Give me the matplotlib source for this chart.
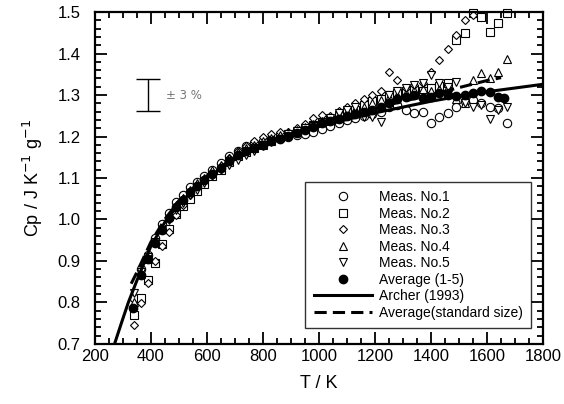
import numpy as np
import matplotlib
matplotlib.use("Agg")
import matplotlib.pyplot as plt
from matplotlib.ticker import MultipleLocator, AutoMinorLocator

plt.rcParams['font.family'] = ['Liberation Sans', 'DejaVu Sans']

# temperature grid of the individual runs (K)
t_meas = [340, 365, 390, 415, 440, 465, 490, 515, 540, 565, 590,
          620, 650, 680, 710, 740, 770, 800, 830, 860, 890, 920, 950, 980,
          1010, 1040, 1070, 1100, 1130, 1160, 1190, 1220, 1250, 1280, 1310,
          1340, 1370, 1400, 1430, 1460, 1490, 1520, 1550, 1580, 1610, 1640, 1670]

nan = np.nan
meas1 = [0.810, 0.880, 0.915, 0.955, 0.990, 1.015, 1.042, 1.060, 1.078, 1.090, 1.104,
         1.120, 1.136, 1.152, 1.165, 1.176, 1.184, 1.190, 1.195, 1.198, 1.200, 1.203, 1.206, 1.210,
         1.218, 1.225, 1.232, 1.240, 1.245, 1.250, 1.255, 1.260, 1.272, 1.275, 1.264,
         1.256, 1.260, 1.232, 1.248, 1.256, 1.272, 1.285, 1.288, 1.280, 1.270, 1.268, 1.232]
meas2 = [0.770, 0.810, 0.855, 0.895, 0.940, 0.978, 1.012, 1.032, 1.050, 1.068, 1.085,
         1.105, 1.120, 1.138, 1.152, 1.163, 1.172, 1.180, 1.190, 1.198, 1.205, 1.212, 1.220, 1.228,
         1.236, 1.240, 1.250, 1.258, 1.265, 1.275, 1.285, 1.290, 1.300, 1.305, 1.310,
         1.315, 1.310, 1.318, 1.322, 1.328, 1.433, 1.449, 1.497, 1.489, 1.453, 1.473, 1.497]
meas3 = [0.746, 0.798, 0.846, 0.900, 0.935, 0.970, 1.010, 1.035, 1.060, 1.078, 1.095,
         1.115, 1.130, 1.148, 1.165, 1.178, 1.190, 1.200, 1.205, 1.210, 1.212, 1.220, 1.230, 1.245,
         1.252, 1.250, 1.262, 1.270, 1.280, 1.290, 1.300, 1.310, 1.356, 1.336, 1.318,
         1.325, 1.330, 1.356, 1.384, 1.412, 1.445, 1.481, 1.493, nan, nan, nan, nan]
meas4 = [0.800, 0.868, 0.905, 0.945, 0.978, 1.008, 1.035, 1.052, 1.072, 1.088, 1.100,
         1.118, 1.132, 1.148, 1.162, 1.172, 1.180, 1.188, 1.196, 1.204, 1.210, 1.216, 1.222, 1.230,
         1.238, 1.245, 1.252, 1.258, 1.266, 1.272, 1.280, 1.288, 1.295, 1.300, 1.305,
         1.312, 1.315, 1.310, 1.315, 1.320, 1.290, 1.280, 1.336, 1.352, 1.340, 1.356, 1.388]
meas5 = [0.822, 0.874, 0.910, 0.945, 0.975, 0.998, 1.022, 1.040, 1.058, 1.072, 1.088,
         1.104, 1.118, 1.132, 1.143, 1.155, 1.166, 1.176, 1.186, 1.195, 1.205, 1.213, 1.220, 1.226,
         1.235, 1.245, 1.256, 1.265, 1.270, 1.248, 1.248, 1.236, 1.300, 1.310, 1.318,
         1.325, 1.330, 1.348, 1.330, 1.320, 1.332, 1.280, 1.270, 1.275, 1.243, 1.264, 1.272]

# average of runs 1-5
t_avg = [337, 365, 390, 415, 440, 465, 490, 515, 540, 565, 590,
         620, 650, 680, 710, 740, 770, 800, 830, 860, 890, 920, 950, 980,
         1010, 1040, 1070, 1100, 1130, 1160, 1190, 1220, 1250, 1280, 1310,
         1340, 1370, 1400, 1430, 1460, 1490, 1520, 1550, 1580, 1610, 1640, 1660]
cp_avg = [0.786, 0.865, 0.905, 0.942, 0.975, 1.003, 1.030, 1.047, 1.066, 1.080, 1.094,
          1.110, 1.124, 1.140, 1.155, 1.165, 1.172, 1.180, 1.188, 1.195, 1.202, 1.208, 1.215, 1.224,
          1.232, 1.237, 1.243, 1.249, 1.255, 1.260, 1.265, 1.270, 1.280, 1.290, 1.296,
          1.300, 1.294, 1.296, 1.305, 1.300, 1.298, 1.300, 1.305, 1.310, 1.307, 1.296, 1.292]

# Archer (1993) reference curve
t_archer = [265, 280, 300, 320, 350, 400, 450, 500, 600, 700, 800, 900, 1000,
            1100, 1200, 1300, 1400, 1500, 1600, 1700, 1800]
cp_archer = [0.688, 0.719, 0.760, 0.800, 0.852, 0.935, 0.993, 1.038, 1.100, 1.145, 1.178, 1.203, 1.224,
             1.241, 1.257, 1.271, 1.285, 1.297, 1.308, 1.317, 1.326]

# average of standard size samples
t_std = [330, 350, 400, 450, 500, 600, 700, 800, 900, 1000, 1100, 1200, 1300, 1400, 1500, 1600, 1650]
cp_std = [0.845, 0.872, 0.945, 1.000, 1.045, 1.105, 1.150, 1.180, 1.205, 1.228, 1.250, 1.268, 1.285,
          1.300, 1.318, 1.335, 1.342]

fig = plt.figure(figsize=(5.64, 4.04), dpi=100)
ax = fig.add_axes([0.168, 0.149, 0.795, 0.821])

mk = dict(linestyle='none', mfc='white', mec='black', mew=0.8, ms=6, clip_on=False)
ax.plot(t_meas, meas1, marker='o', label='Meas. No.1', **mk)
ax.plot(t_meas, meas2, marker='s', label='Meas. No.2', **mk)
ax.plot(t_meas, meas3, marker='D', label='Meas. No.3', **dict(mk, ms=4.5))
ax.plot(t_meas, meas4, marker='^', label='Meas. No.4', **mk)
ax.plot(t_meas, meas5, marker='v', label='Meas. No.5', **mk)
ax.plot(t_avg, cp_avg, marker='o', linestyle='none', color='black', ms=6, label='Average (1-5)')
ax.plot(t_archer, cp_archer, color='black', lw=2.2, label='Archer (1993)')
ax.plot(t_std, cp_std, color='black', lw=2.2, dashes=(4, 2), label='Average(standard size)')

ax.errorbar([390], [1.30], yerr=[0.039], color='black', lw=1, capsize=8.5, capthick=1)
ax.text(455, 1.30, '± 3 %', fontsize=8.5, color='#777777', va='center', family='DejaVu Sans')

ax.set_xlim(200, 1800)
ax.set_ylim(0.7, 1.5)
ax.xaxis.set_major_locator(MultipleLocator(200))
ax.xaxis.set_minor_locator(AutoMinorLocator(4))
ax.yaxis.set_major_locator(MultipleLocator(0.1))
ax.yaxis.set_minor_locator(AutoMinorLocator(5))
ax.tick_params(which='both', direction='in', top=True, right=True, width=1.3, labelsize=12)
ax.tick_params(which='major', length=8.5)
ax.tick_params(which='minor', length=4.5)
ax.tick_params(axis='y', pad=10)
ax.tick_params(axis='x', pad=4)
for s in ax.spines.values():
    s.set_linewidth(1.6)

ax.set_xlabel('T / K', fontsize=13, labelpad=8)
ax.set_ylabel('Cp / J K$^{-1}$ g$^{-1}$', fontsize=13, labelpad=9)

leg = ax.legend(loc='lower right', bbox_to_anchor=(0.973, 0.048), borderaxespad=0,
                fontsize=10, frameon=True, fancybox=False, edgecolor='black',
                handlelength=4.2, labelspacing=0.18, handletextpad=0.5, borderpad=0.6)
leg.get_frame().set_linewidth(1.0)

fig.savefig('out.png', dpi=100)
